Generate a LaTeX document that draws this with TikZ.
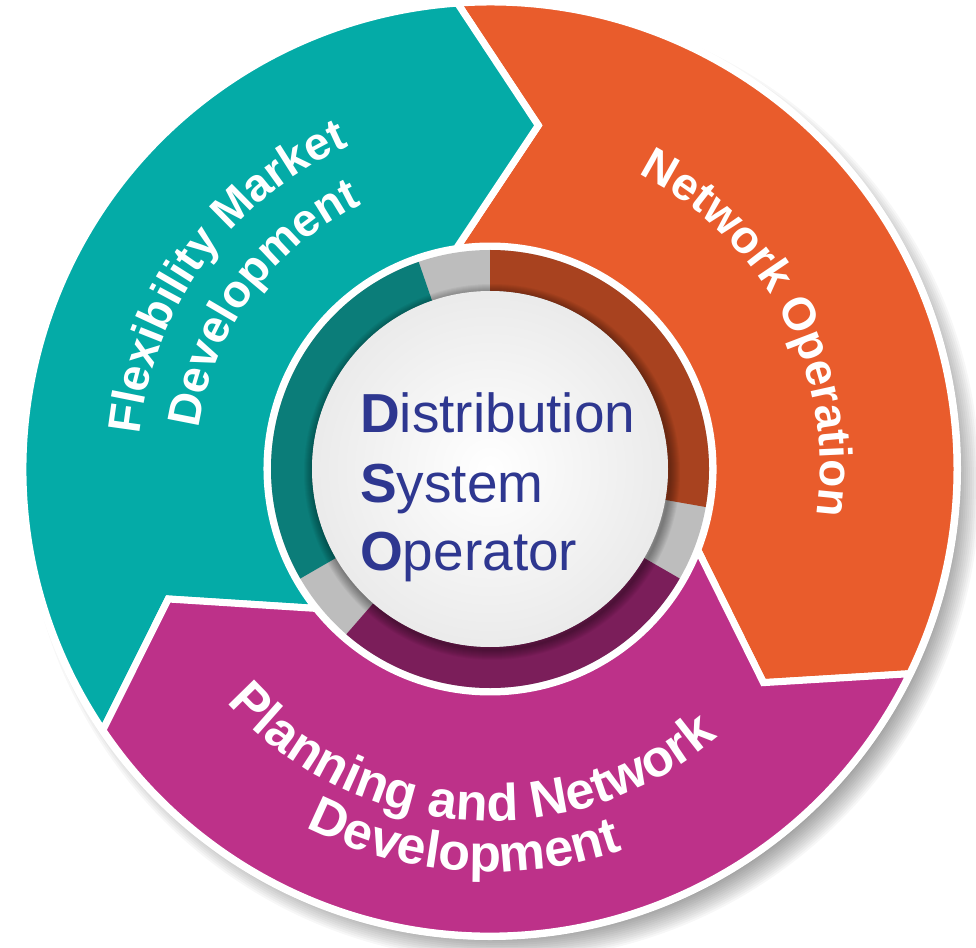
\documentclass[tikz,border=0pt]{standalone}
\usepackage{fontspec}
\setmainfont{Liberation Sans}
\usetikzlibrary{decorations.text}
\definecolor{tealseg}{HTML}{04ABA7}
\definecolor{orangeseg}{HTML}{E95C2C}
\definecolor{magseg}{HTML}{BD3189}
\definecolor{tealdark}{HTML}{0B7D79}
\definecolor{orangedark}{HTML}{A8421F}
\definecolor{magdark}{HTML}{7B1E5A}
\definecolor{gapgray}{HTML}{BDBDBD}
\definecolor{dsoblue}{HTML}{2E3790}
\newcommand{\arcfont}{\fontsize{46}{50}\selectfont\bfseries}
\newcommand{\bigarcfont}{\fontsize{52}{56}\selectfont\bfseries}
\newcommand{\dsofont}{\fontsize{55}{68}\selectfont}

\begin{document}
\begin{tikzpicture}[x=1pt,y=1pt,
    segment/.style={draw=white,line width=7pt,line join=miter},
    arclabel/.style={decorate,decoration={text along path,text align=center,
        text color=white,text={#1}}},
    dso/.style={anchor=base west,inner sep=0pt,text=dsoblue,font=\dsofont}]
    \useasboundingbox[fill=white] (-490,-478) rectangle (486,469);
    % soft shadow of the wheel
    \foreach \i in {0,...,14}
        \fill[black,opacity=0.03] (12,-14) circle[radius={(450+2*\i)*1pt}];
    \fill[white] (0,0) circle[radius=471pt];
    % the three arrows
    \foreach \a/\col in {94/orangeseg,214/tealseg,334/magseg}
        \filldraw[segment,fill=\col] (\a:467pt)
            arc[start angle=\a,end angle=\a-120,radius=467pt]
            -- ({\a-132}:347pt) -- ({\a-115.3}:223pt)
            arc[start angle=\a-115.3,end angle=\a+4.7,radius=223pt]
            -- ({\a-12}:347pt) -- cycle;
    % inner ring
    \fill[gapgray] (0,0) circle[radius=219pt];
    \foreach \s/\e/\col in {-10/90/orangedark,109/210/tealdark,229/330/magdark}
        \fill[\col] (\s:219pt) arc[start angle=\s,end angle=\e,radius=219pt]
            -- (\e:178pt) arc[start angle=\e,end angle=\s,radius=178pt] -- cycle;
    \foreach \i in {1,...,10}
        \draw[black,opacity=0.04,line width=\i*2pt] (2,-3) circle[radius=178pt];
    \shade[inner color=white,outer color=black!8] (0,0) circle[radius=178pt];
    % centre text
    \node[dso] (dist) at (-130,36) {\textbf{D}istribution};
    \node[dso] (sys) at (-130,-33) {\textbf{S}ystem};
    \node[dso] (oper) at (-130,-101) {\textbf{O}perator};
    % labels on the arrows
    \path[arclabel={|\arcfont|Network Operation}]
        (87.6:330pt) arc[start angle=87.6,end angle=-32.4,radius=330pt];
    \path[arclabel={|\arcfont|Flexibility Market}]
        (204:352pt) arc[start angle=204,end angle=84,radius=352pt];
    \path[arclabel={|\arcfont|Development}]
        (204:294pt) arc[start angle=204,end angle=84,radius=294pt];
    \path[arclabel={|\bigarcfont|Planning and Network}]
        (206:352pt) arc[start angle=206,end angle=326,radius=352pt];
    \path[arclabel={|\bigarcfont|Development}]
        (206:403pt) arc[start angle=206,end angle=326,radius=403pt];
\end{tikzpicture}
\end{document}
